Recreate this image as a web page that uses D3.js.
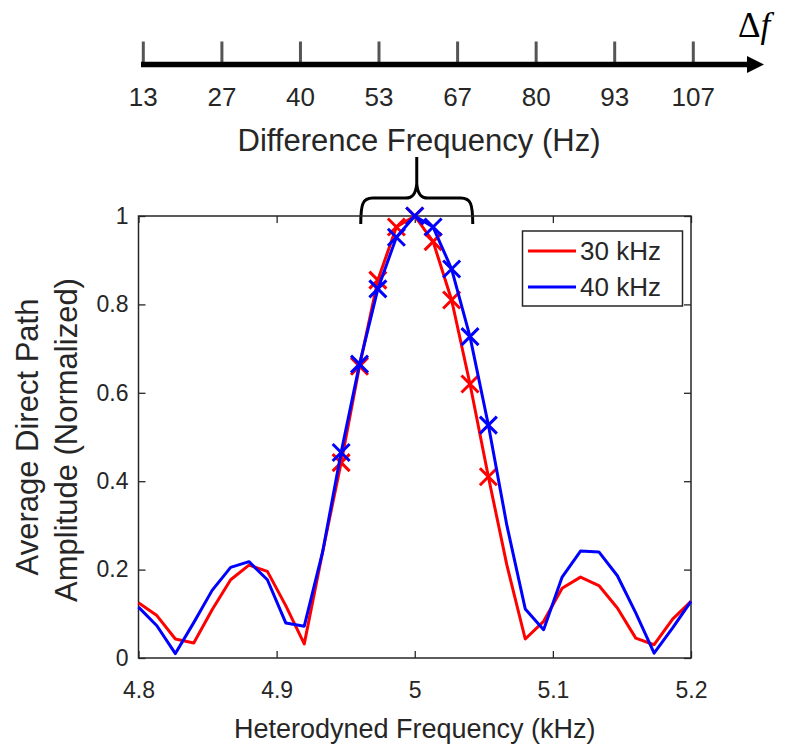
<!DOCTYPE html>
<html lang="en">
<head>
    <meta charset="UTF-8">
    <title>Direct Path Amplitude</title>
    <script src="https://cdn.jsdelivr.net/npm/d3@7"></script>
    <style>
        body { margin: 0; background: #fff; }
        text { font-family: "Liberation Sans", Arial, sans-serif; fill: #262626; }
        .axis path { display: none; }
        .axis line { stroke: #262626; stroke-width: 1.3px; }
    </style>
</head>
<body>
    <svg width="786" height="747"></svg>

    <script>
        // heterodyned frequency samples (kHz), one every 13.33 Hz
        var freq = [4.8, 4.8133, 4.8267, 4.84, 4.8533, 4.8667, 4.88, 4.8933, 4.9067, 4.92,
                    4.9333, 4.9467, 4.96, 4.9733, 4.9867, 5.0, 5.0133, 5.0267, 5.04, 5.0533,
                    5.0667, 5.08, 5.0933, 5.1067, 5.12, 5.1333, 5.1467, 5.16, 5.1733, 5.1867, 5.2];

        // normalized average direct path amplitude
        var amp30 = [0.125, 0.096, 0.043, 0.034, 0.109, 0.177, 0.21, 0.196, 0.118, 0.032,
                     0.24, 0.442, 0.66, 0.855, 0.975, 1.0, 0.942, 0.81, 0.62, 0.41,
                     0.21, 0.043, 0.083, 0.158, 0.183, 0.164, 0.113, 0.045, 0.03, 0.088, 0.128];
        var amp40 = [0.115, 0.073, 0.01, 0.08, 0.153, 0.205, 0.218, 0.177, 0.079, 0.072,
                     0.24, 0.465, 0.665, 0.835, 0.952, 1.0, 0.975, 0.88, 0.727, 0.527,
                     0.30, 0.111, 0.064, 0.183, 0.242, 0.240, 0.186, 0.102, 0.011, 0.068, 0.128];

        // samples that carry an x marker
        var markedFreq = [4.9467, 4.96, 4.9733, 4.9867, 5.0, 5.0133, 5.0267, 5.04, 5.0533];

        var series = [
            { name: "30 kHz", color: "#ff0000", values: amp30 },
            { name: "40 kHz", color: "#0000ff", values: amp40 }
        ];

        // difference frequency axis
        var diffTicks = [13.33, 26.67, 40, 53.33, 66.67, 80, 93.33, 106.67];
        var diffLabels = ["13", "27", "40", "53", "67", "80", "93", "107"];

        var xTicks = [4.8, 4.9, 5, 5.1, 5.2];
        var yTicks = [0, 0.2, 0.4, 0.6, 0.8, 1];

        var svg = d3.select("svg");

        // plot box (window.top is reserved, so prefix the names)
        var plotL = 138.5, plotR = 691, plotT = 216, plotB = 658;

        var x = d3.scaleLinear().domain([4.8, 5.2]).range([plotL, plotR]);
        var y = d3.scaleLinear().domain([0, 1]).range([plotB, plotT]);

        // ---- top difference-frequency arrow axis ----
        var dx = d3.scaleLinear().domain([diffTicks[0], diffTicks[diffTicks.length - 1]]).range([143.3, 693.3]);
        var arrowY = 64.5;

        svg.append("g").selectAll("line")
            .data(diffTicks)
            .enter().append("line")
            .attr("x1", function(d) { return dx(d); })
            .attr("x2", function(d) { return dx(d); })
            .attr("y1", 41.5)
            .attr("y2", arrowY)
            .attr("stroke", "#555")
            .attr("stroke-width", 3);

        svg.append("line")
            .attr("x1", 141).attr("x2", 750)
            .attr("y1", arrowY).attr("y2", arrowY)
            .attr("stroke", "#000")
            .attr("stroke-width", 5.5);

        svg.append("path")
            .attr("d", "M747," + (arrowY - 8.5) + "L764," + arrowY + "L747," + (arrowY + 8.5) + "Z")
            .attr("fill", "#000");

        svg.append("g").selectAll("text")
            .data(diffTicks)
            .enter().append("text")
            .attr("x", function(d) { return dx(d); })
            .attr("y", 106)
            .attr("text-anchor", "middle")
            .style("font-size", "26px")
            .text(function(d, i) { return diffLabels[i]; });

        svg.append("text")
            .attr("x", 419)
            .attr("y", 151)
            .attr("text-anchor", "middle")
            .style("font-size", "31px")
            .text("Difference Frequency (Hz)");

        var df = svg.append("text")
            .attr("x", 738)
            .attr("y", 37)
            .style("font-family", "'Liberation Serif', 'DejaVu Serif', serif")
            .style("font-size", "35px")
            .style("fill", "#000");
        df.append("tspan").text("\u0394");
        df.append("tspan").style("font-style", "italic").text("f");

        // curly bracket over the main lobe
        var bx = x(5) + 2, bw = 56, bTop = 198, bEnd = 224;
        svg.append("path")
            .attr("d",
                "M" + (bx - bw) + "," + bEnd +
                "C" + (bx - bw) + "," + (bTop + 6) + " " + (bx - bw + 2) + "," + bTop + " " + (bx - bw + 12) + "," + bTop +
                "L" + (bx - 11) + "," + bTop +
                "C" + (bx - 5) + "," + bTop + " " + (bx - 1) + "," + (bTop - 3) + " " + bx + "," + (bTop - 14) +
                "L" + bx + "," + 157 +
                "M" + bx + "," + (bTop - 14) +
                "C" + (bx + 1) + "," + (bTop - 3) + " " + (bx + 5) + "," + bTop + " " + (bx + 11) + "," + bTop +
                "L" + (bx + bw - 12) + "," + bTop +
                "C" + (bx + bw - 2) + "," + bTop + " " + (bx + bw) + "," + (bTop + 6) + " " + (bx + bw) + "," + bEnd)
            .attr("fill", "none")
            .attr("stroke", "#000")
            .attr("stroke-width", 3);

        // ---- main axes ----
        svg.append("g")
            .attr("class", "axis")
            .attr("transform", "translate(0," + plotB + ")")
            .call(d3.axisBottom(x).tickValues(xTicks).tickSize(-7).tickPadding(24).tickFormat(d3.format("~g")))
            .selectAll("text").style("font-size", "23px");

        svg.append("g")
            .attr("class", "axis")
            .attr("transform", "translate(0," + plotT + ")")
            .call(d3.axisTop(x).tickValues(xTicks).tickSize(-7).tickFormat(""));

        svg.append("g")
            .attr("class", "axis")
            .attr("transform", "translate(" + plotL + ",0)")
            .call(d3.axisLeft(y).tickValues(yTicks).tickSize(-7).tickPadding(10).tickFormat(d3.format("~g")))
            .selectAll("text").style("font-size", "23px");

        svg.append("g")
            .attr("class", "axis")
            .attr("transform", "translate(" + plotR + ",0)")
            .call(d3.axisRight(y).tickValues(yTicks).tickSize(-7).tickFormat(""));

        svg.append("rect")
            .attr("x", plotL).attr("y", plotT)
            .attr("width", plotR - plotL).attr("height", plotB - plotT)
            .attr("fill", "none")
            .attr("stroke", "#262626")
            .attr("stroke-width", 1.5);

        svg.append("text")
            .attr("x", (plotL + plotR) / 2)
            .attr("y", 738)
            .attr("text-anchor", "middle")
            .style("font-size", "27px")
            .text("Heterodyned Frequency (kHz)");

        svg.append("text")
            .attr("transform", "translate(38,437) rotate(-90)")
            .attr("text-anchor", "middle")
            .style("font-size", "31px")
            .text("Average Direct Path");

        svg.append("text")
            .attr("transform", "translate(77,440) rotate(-90)")
            .attr("text-anchor", "middle")
            .style("font-size", "31px")
            .text("Amplitude (Normalized)");

        // ---- data ----
        var line = d3.line()
            .x(function(d, i) { return x(freq[i]); })
            .y(function(d) { return y(d); });

        var ms = 8.5;
        series.forEach(function(s) {
            svg.append("path")
                .datum(s.values)
                .attr("d", line)
                .attr("fill", "none")
                .attr("stroke", s.color)
                .attr("stroke-width", 3)
                .attr("stroke-linejoin", "round");

            var pts = markedFreq.map(function(f) {
                var i = freq.indexOf(f);
                return [x(freq[i]), y(s.values[i])];
            });

            svg.append("g").selectAll("path")
                .data(pts)
                .enter().append("path")
                .attr("d", function(p) {
                    return "M" + (p[0] - ms) + "," + (p[1] - ms) + "L" + (p[0] + ms) + "," + (p[1] + ms) +
                        "M" + (p[0] - ms) + "," + (p[1] + ms) + "L" + (p[0] + ms) + "," + (p[1] - ms);
                })
                .attr("stroke", s.color)
                .attr("stroke-width", 3);
        });

        // ---- legend ----
        var legend = svg.append("g");
        legend.append("rect")
            .attr("x", 522.5).attr("y", 231)
            .attr("width", 160).attr("height", 75)
            .attr("fill", "#fff")
            .attr("stroke", "#262626")
            .attr("stroke-width", 1.5);

        var rows = legend.selectAll("g")
            .data(series)
            .enter().append("g")
            .attr("transform", function(d, i) { return "translate(0," + (251 + i * 36) + ")"; });

        rows.append("line")
            .attr("x1", 528).attr("x2", 576)
            .attr("stroke", function(d) { return d.color; })
            .attr("stroke-width", 3);

        rows.append("text")
            .attr("x", 580)
            .attr("dy", "0.35em")
            .style("font-size", "26px")
            .text(function(d) { return d.name; });
    </script>
</body>
</html>
